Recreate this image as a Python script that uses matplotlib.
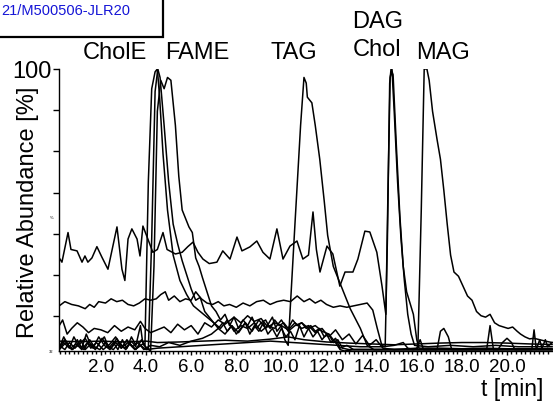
#!/usr/bin/env python3

import numpy as np
import matplotlib
matplotlib.use("Agg")
import matplotlib.pyplot as plt
from matplotlib.patches import Rectangle

plt.rcParams['font.family'] = ['Liberation Sans', 'DejaVu Sans']

# traces: (t [min], relative abundance [%])
dag = [(0.15,33),(0.27,31.5),(0.54,42),(0.67,36),(0.94,35.5),(1.16,31.5),(1.29,33.7),
       (1.42,31.5),(1.6,33),(1.82,37),(2.04,33.3),(2.31,29),(2.71,44),(2.93,29),(3.06,25),
       (3.2,39.7),(3.37,43.3),(3.6,39.7),(3.73,33.7),(3.86,44.3),(4.08,39.7),(4.3,35),
       (4.5,36),(4.75,42),(4.93,36),(5.3,34.4),(5.6,35),(5.85,37),(6.08,38.6),(6.3,35),
       (6.52,32.6),(6.8,31),(7.14,31.5),(7.4,35.5),(7.72,32.6),(8.03,40.4),(8.25,35.5),
       (8.6,36.9),(8.91,39),(9.18,35),(9.49,32.6),(9.8,43.3),(10.07,32.6),(10.38,37.2),
       (10.69,39),(10.95,32.6),(11.2,34),(11.4,49.3),(11.55,36),(11.71,28),(12.02,37.2),
       (12.28,34.4),(12.59,23),(12.82,28),(13.17,28),(13.39,32.6),(13.7,42.5),(13.92,42.2),
       (14.23,35),(14.46,23),(14.63,13),(14.72,55),(14.82,97),(14.9,100),(15.0,85),
       (15.15,60),(15.3,40),(15.45,25),(15.6,13),(15.75,6),(15.9,2),(16.5,1.5),(17.5,2),
       (18.5,1.5),(19.5,2),(20.5,1.5),(22.0,1.5)]

chol = [(0.15,16),(0.4,17.5),(0.7,16.5),(1.0,16),(1.3,15),(1.5,16.5),(1.7,15.5),(1.9,17.5),
        (2.2,17),(2.45,18.5),(2.7,17.5),(2.95,18),(3.2,16.5),(3.45,16),(3.7,17),(3.95,18.5),
        (4.2,18),(4.45,18.5),(4.65,20),(4.85,21),(5.0,18),(5.25,19.5),(5.5,17.5),(5.75,18.5),
        (6.0,18),(6.2,21),(6.45,18.5),(6.7,17),(6.95,16.5),(7.2,17.5),(7.45,16),(7.7,16.5),
        (8.0,15.5),(8.3,17),(8.6,16),(8.9,17.5),(9.2,18),(9.5,16.5),(9.8,17.5),(10.1,18),
        (10.4,17.5),(10.7,19.5),(11.0,17.5),(11.25,18.5),(11.5,17),(11.75,18),(12.0,16.5),
        (12.3,15.5),(12.6,16),(12.9,15.5),(13.2,16),(13.5,16.5),(13.8,17),(14.05,14.5),
        (14.25,8),(14.45,2),(14.6,1.5),(14.7,40),(14.8,95),(14.86,100),(14.95,98),(15.1,72),
        (15.25,48),(15.4,30),(15.55,21),(15.7,17),(15.85,13),(16.0,4),(16.1,1),(17.0,1),
        (18.0,0.8),(19.0,1),(20.0,0.8),(22.0,0.8)]

chole = [(0.15,1),(0.35,5),(0.55,2),(0.75,0.5),(0.95,4),(1.15,1),(1.35,6),(1.55,2),(1.75,0.5),
         (1.95,3),(2.15,5),(2.35,1),(2.55,3),(2.75,0.5),(2.95,4),(3.15,1),(3.35,5),(3.55,2),
         (3.75,9),(3.85,3),(3.95,2),(4.1,60),(4.25,93),(4.4,99),(4.5,100),(4.6,90),(4.75,70),
         (4.95,50),(5.2,34),(5.5,25),(5.8,20),(6.1,16),(6.4,14),(6.7,12),(7.0,10),(7.3,8),
         (7.6,11),(7.9,7),(8.2,9),(8.5,8),(8.8,10),(9.1,7),(9.4,9),(9.7,8),(10.0,11),(10.3,7),
         (10.6,9),(10.9,10),(11.2,8),(11.5,9),(11.8,7),(12.1,6),(12.4,3),(12.6,0.5),(12.8,0),
         (13.2,0.5),(15.0,0.5),(16.0,1),(16.15,4),(16.3,0.5),(22.0,0.5)]

fame_a = [(0.15,2),(0.4,0.5),(0.6,3),(0.85,1),(1.1,4),(1.3,0.5),(1.55,2.5),(1.8,1),(2.05,4.5),
          (2.3,1.5),(2.55,0.5),(2.8,3),(3.05,1),(3.3,2.5),(3.55,0.5),(3.8,4),(4.0,1),(4.1,0.5),
          (4.25,40),(4.4,92),(4.52,100),(4.62,97),(4.8,80),(5.0,60),(5.2,45),(5.4,38),(5.6,32),
          (5.8,27),(6.0,22),(6.2,18),(6.4,19),(6.6,14),(6.8,12),(7.0,10),(7.2,8),(7.4,10),
          (7.6,7),(7.8,9),(8.0,6),(8.2,8),(8.4,10),(8.6,6),(8.8,9),(9.0,7),(9.2,10),(9.4,6),
          (9.6,8),(9.8,5),(10.0,8),(10.2,5),(10.4,7),(10.6,4),(10.8,9),(11.0,5),(11.2,8),
          (11.4,5),(11.6,7),(11.8,4),(12.0,6),(12.2,3),(12.4,4.5),(12.6,1),(12.9,2),(13.2,0.5),
          (22.0,0.5)]

fame_b = [(0.15,0.5),(0.35,3),(0.6,1),(0.8,5),(1.0,2),(1.25,0.5),(1.5,4),(1.7,1.5),(1.95,0.5),
          (2.2,3),(2.45,1),(2.7,4.5),(2.9,2),(3.1,0.5),(3.35,3.5),(3.6,1),(3.85,2.5),(4.05,1),
          (4.2,0),(4.35,30),(4.5,85),(4.65,96),(4.8,93),(4.95,97),(5.1,96),(5.3,80),(5.45,62),
          (5.6,50),(5.75,47),(5.9,44),(6.05,42),(6.2,33),(6.35,30),(6.5,26),(6.7,21),(6.9,16),
          (7.1,14),(7.3,11),(7.5,13),(7.7,9),(7.9,12),(8.1,8),(8.3,11),(8.5,9),(8.7,12),(8.9,8),
          (9.1,10),(9.3,11),(9.5,8),(9.7,11),(9.9,9),(10.1,10),(10.3,8),(10.5,11),(10.7,9),
          (10.9,10),(11.1,8),(11.3,9),(11.5,7),(11.7,8),(11.9,5),(12.1,6),(12.3,3),(12.5,4),
          (12.7,1),(13.0,0.5),(19.6,0.5),(19.8,3),(20.0,4.5),(20.2,3),(20.35,0.5),(22.0,0.5)]

tag = [(0.15,1.5),(0.4,4),(0.65,1),(0.9,2.5),(1.15,0.5),(1.4,3),(1.65,1),(1.9,5),(2.15,2),
       (2.4,0.5),(2.65,3),(2.9,1),(3.15,4),(3.4,1.5),(3.65,3),(3.9,0.5),(4.2,2),(4.6,1.5),
       (5.0,3),(5.5,2),(6.0,3.5),(6.5,4.5),(6.9,6),(7.2,8),(7.5,6),(7.8,9),(8.1,6.5),(8.4,10),
       (8.7,7),(9.0,11),(9.3,8),(9.6,12),(9.8,7),(10.0,9),(10.15,4),(10.3,2),(10.6,45),
       (10.85,80),(11.0,97),(11.1,95),(11.15,90),(11.35,88),(11.5,80),(11.7,68),(11.9,53),
       (12.05,41),(12.3,30),(12.7,22),(13.05,15),(13.5,8),(13.8,2),(14.1,0.5),(22.0,0.5)]

mag = [(0.15,0.5),(0.45,3),(0.7,0.5),(1.0,2),(1.3,4.5),(1.55,1),(1.8,3),(2.1,0.5),(2.4,2.5),
       (2.65,5),(2.9,1),(3.2,3),(3.5,0.5),(3.75,2),(4.0,0.5),(4.5,1),(5.5,1.5),(6.5,2),
       (7.5,2.5),(8.5,3),(9.5,3.5),(10.5,3),(11.5,2.5),(12.5,2),(13.5,1.5),(14.5,1.5),(15.0,2),
       (15.4,3),(15.6,1),(15.85,0.5),(16.05,1),(16.2,50),(16.33,100),(16.45,100),(16.55,96),
       (16.7,85),(16.9,75),(17.05,68),(17.2,57),(17.35,45),(17.5,34),(17.65,28),(17.85,26.5),
       (18.05,23),(18.25,19.5),(18.45,18),(18.65,14),(18.85,12.5),(19.05,12),(19.25,13),
       (19.45,10),(19.65,9),(19.85,8.5),(20.05,8),(20.25,8.5),(20.45,7),(20.6,6),(20.8,5),
       (21.0,4.3),(21.2,4.5),(21.45,4),(21.7,3.5),(22.0,3)]

base_a = [(0.15,9),(0.3,11),(0.5,6),(0.7,8),(0.95,10),(1.2,8.5),(1.45,6.5),(1.7,8),(2.0,7.5),
          (2.3,6.5),(2.6,9),(2.9,7),(3.2,8.5),(3.5,7.5),(3.75,10.5),(3.95,8),(4.2,6.5),(4.5,7.5),
          (4.8,8.5),(5.1,6.5),(5.4,9.5),(5.7,7.5),(6.0,9),(6.3,6),(6.6,10),(6.9,8.5),(7.2,11),
          (7.5,9.5),(7.9,12),(8.2,10),(8.5,12.5),(8.8,10.5),(9.1,11.5),(9.4,8.5),(9.7,10),
          (10.0,9),(10.3,7.5),(10.6,10),(10.9,8),(11.2,9),(11.5,6.5),(11.8,8),(12.1,5),
          (12.4,7.5),(12.7,4),(13.0,6),(13.3,2.5),(13.6,5.5),(13.9,2),(14.2,4),(14.5,1),
          (15.0,0.5),(16.9,0.5),(17.05,7),(17.2,8),(17.4,5),(17.55,0.5),(19.1,0.5),(19.25,9),
          (19.4,0.5),(21.1,0.5),(21.2,7.5),(21.3,0.5),(21.45,4),(21.55,1),(21.7,4),(21.8,1.5),
          (22.0,3)]

base_b = [(0.15,3.5),(1.0,3.3),(2.0,3.5),(3.0,3.2),(4.0,3.5),(4.5,3.0),(5.5,3.2),(6.5,3.5),
          (7.5,3.8),(8.5,3.5),(9.5,4.2),(10.3,5.0),(11.0,4.0),(12.0,3.2),(13.0,2.8),(14.0,2.5),
          (15.0,2.2),(16.0,2.5),(17.0,2.8),(18.0,3.0),(19.0,3.0),(20.0,2.8),(21.0,2.5),(22.0,2.3)]

traces = [dag, chol, chole, fame_a, fame_b, tag, mag, base_a, base_b]

peak_names = ["CholE", "FAME", "TAG", "DAG", "Chol", "MAG"]
peak_xy = [(0.208, 0.868), (0.356, 0.868), (0.532, 0.868),
           (0.682, 0.945), (0.682, 0.876), (0.801, 0.868)]

x_ticks = [2.0, 4.0, 6.0, 8.0, 10.0, 12.0, 14.0, 16.0, 18.0, 20.0]
y_ticks = [12.4, 27.0, 41.6, 56.2, 70.8, 85.4, 100.0]


def main():
    fig = plt.figure(figsize=(5.53, 4.02), dpi=100)
    ax = fig.add_axes([0.1067, 0.1244, 0.8933, 0.7015])

    for tr in traces:
        arr = np.array(tr)
        ax.plot(arr[:, 0], arr[:, 1], color='black', lw=1.1)

    ax.set_xlim(0.14, 22.04)
    ax.set_ylim(0, 100)
    for s in ['top', 'right']:
        ax.spines[s].set_visible(False)
    ax.spines['left'].set_linewidth(1.0)
    ax.spines['bottom'].set_linewidth(1.0)

    ax.set_xticks(x_ticks)
    ax.set_xticklabels(["%.1f" % t for t in x_ticks])
    ax.set_xticks(np.arange(0.2, 22.0, 0.2), minor=True)
    ax.tick_params(axis='x', which='major', length=3, width=1, pad=2, labelsize=13.5)
    ax.tick_params(axis='x', which='minor', length=2, width=1)

    ax.set_yticks(y_ticks)
    ax.set_yticklabels(["" for t in y_ticks[:-1]] + ["100"])
    ax.tick_params(axis='y', length=4, width=1, pad=1, labelsize=17)

    # tiny scale marks on the y axis
    ax.text(-0.012, 47.5, "%", transform=ax.get_yaxis_transform(),
            fontsize=3, ha='right', va='center')
    ax.text(-0.012, 0, "32", transform=ax.get_yaxis_transform(),
            fontsize=3, ha='right', va='center')

    fig.text(0.05, 0.473, "Relative Abundance [%]", rotation=90,
             fontsize=17, ha='center', va='center')
    fig.text(0.982, 0.03, "t [min]", fontsize=16.5, ha='right', va='center')

    for name, (px, py) in zip(peak_names, peak_xy):
        fig.text(px, py, name, fontsize=17, ha='center', va='center')

    # header box with the figure id
    fig.patches.append(Rectangle((-0.05, 1 - 38 / 402), 163 / 553 + 0.05, 0.2,
                                 transform=fig.transFigure, fill=False,
                                 edgecolor='black', lw=1.6))
    fig.text(0.003, 0.973, "21/M500506-JLR20", color='#1515d6',
             fontsize=10.5, ha='left', va='center')

    fig.savefig("out.png", dpi=100)


if __name__ == "__main__":
    main()
